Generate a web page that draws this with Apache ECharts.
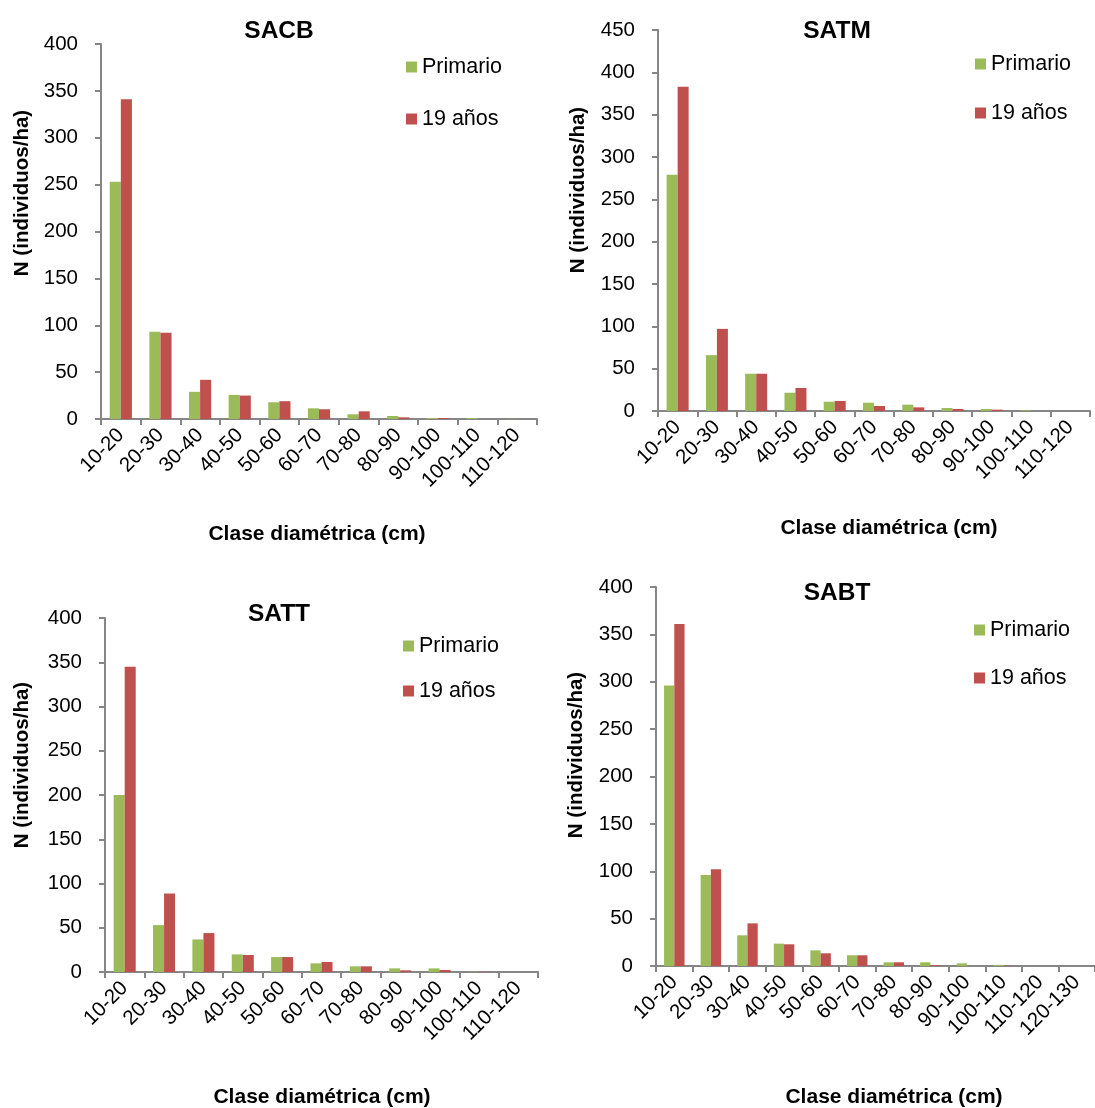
<!DOCTYPE html>
<html><head><meta charset="utf-8">
<script src="https://cdn.jsdelivr.net/npm/echarts@6/dist/echarts.min.js"></script>
<style>html,body{margin:0;padding:0;background:#fff}#c{width:1095px;height:1108px}</style>
</head><body><div id="c"></div>
<script>
const cats11 = ['10-20','20-30','30-40','40-50','50-60','60-70','70-80','80-90','90-100','100-110','110-120'];
const cats12 = ['10-20','20-30','30-40','40-50','50-60','60-70','70-80','80-90','90-100','100-110','110-120','120-130'];
const seriesNames = ['Primario','19 años'];
const panelTitles = ['SACB','SATM','SATT','SABT'];
const yTitle = 'N (individuos/ha)';
const xTitle = 'Clase diamétrica (cm)';

const sacbPrimario = [253, 93, 29, 25.7, 17.9, 11.4, 5, 3.2, 1, 1, 0.3];
const sacb19 =       [341, 92, 41.8, 25, 19, 10.4, 8.2, 1.8, 1, 0, 0];
const satmPrimario = [279, 66, 44, 21.6, 11, 9.8, 7.5, 3.5, 2.4, 0.8, 0];
const satm19 =       [383, 97, 44, 27.2, 11.8, 5.9, 4.3, 2.4, 1.6, 0, 0];
const sattPrimario = [200, 53, 36.8, 19.9, 16.9, 9.8, 6.4, 4.1, 4.1, 0.3, 0];
const satt19 =       [345, 88.7, 44, 19.2, 16.9, 11.3, 6.4, 1.9, 2.3, 0.3, 0];
const sabtPrimario = [296, 96, 32.4, 23.6, 16.5, 11.3, 3.9, 3.9, 2.8, 1.2, 0, 0];
const sabt19 =       [361, 102, 45, 22.9, 13.4, 11.3, 3.9, 0.7, 0, 0.3, 0, 0];
const yMax = [400, 450, 400, 400];

const FONT = '"Liberation Sans", Arial, sans-serif';
const GREEN = '#9BBB59', RED = '#C0504D', AXIS = '#868686';

const grids = [
  {left: 101, top: 44, width: 436, height: 375},
  {left: 658, top: 30, width: 432, height: 381},
  {left: 105, top: 618, width: 433, height: 354},
  {left: 656, top: 587, width: 444, height: 379}
];
const catsList = [cats11, cats11, cats11, cats12];
const data = [[sacbPrimario, sacb19],[satmPrimario, satm19],[sattPrimario, satt19],[sabtPrimario, sabt19]];
const legendPos = [
  {left: 401, top: 51, gap: 30},
  {left: 970, top: 48, gap: 27},
  {left: 398, top: 630, gap: 23},
  {left: 969, top: 614, gap: 26}
];
const titlePos = [[279,31],[837,31],[279,614],[837,593]];
const yTitlePos = [[22,193],[578,190],[22,765],[576,755]];
const xTitlePos = [[317,534],[889,528],[322,1097],[894,1097]];

const xAxis = [], yAxis = [], series = [], legend = [], graphic = [];
for (let i = 0; i < 4; i++) {
  xAxis.push({
    type: 'category', gridIndex: i, data: catsList[i],
    axisLine: {lineStyle: {color: AXIS, width: 2}},
    axisTick: {show: true, length: 6, lineStyle: {color: AXIS, width: 2}},
    axisLabel: {rotate: 45, margin: 13, color: '#000', fontSize: 20.5, fontFamily: FONT, interval: 0}
  });
  yAxis.push({
    type: 'value', gridIndex: i, min: 0, max: yMax[i], interval: 50,
    splitLine: {show: false},
    axisLine: {show: true, lineStyle: {color: AXIS, width: 2}},
    axisTick: {show: true, length: 6, lineStyle: {color: AXIS, width: 2}},
    axisLabel: {margin: 23, color: '#000', fontSize: 20.5, fontFamily: FONT}
  });
  series.push({
    name: seriesNames[0], type: 'bar', xAxisIndex: i, yAxisIndex: i, data: data[i][0],
    itemStyle: {color: GREEN}, barGap: '0%', barCategoryGap: '44%'
  });
  series.push({
    name: seriesNames[1], type: 'bar', xAxisIndex: i, yAxisIndex: i, data: data[i][1],
    itemStyle: {color: RED}, barGap: '0%', barCategoryGap: '44%'
  });
  legend.push({
    orient: 'vertical', left: legendPos[i].left, top: legendPos[i].top,
    itemGap: legendPos[i].gap, itemWidth: 11, itemHeight: 11, icon: 'rect',
    selectedMode: false, data: seriesNames,
    textStyle: {fontSize: 21.5, fontFamily: FONT, color: '#000', lineHeight: 22}
  });
  graphic.push({type: 'text', x: titlePos[i][0], y: titlePos[i][1],
    style: {text: panelTitles[i], font: 'bold 24.5px ' + FONT, fill: '#000', textAlign: 'center', textVerticalAlign: 'middle'}});
  graphic.push({type: 'text', x: yTitlePos[i][0], y: yTitlePos[i][1], rotation: Math.PI/2,
    style: {text: yTitle, font: 'bold 20.5px ' + FONT, fill: '#000', textAlign: 'center', textVerticalAlign: 'middle'}});
  graphic.push({type: 'text', x: xTitlePos[i][0], y: xTitlePos[i][1],
    style: {text: xTitle, font: 'bold 21px ' + FONT, fill: '#000', textAlign: 'center', textVerticalAlign: 'middle'}});
}

const chart = echarts.init(document.getElementById('c'), null, {renderer: 'canvas'});
chart.setOption({
  animation: false,
  backgroundColor: '#fff',
  grid: grids,
  xAxis, yAxis, series, legend, graphic
});
</script>
</body></html>
